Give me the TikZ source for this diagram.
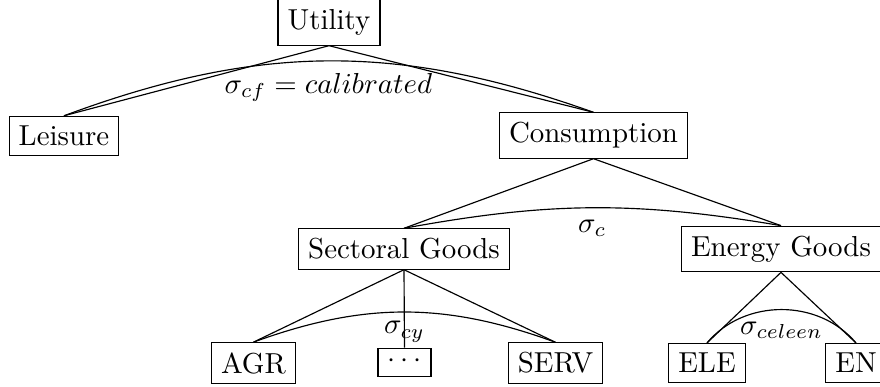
\documentclass[tikz,border=0pt]{standalone}
\begin{document}
\begin{tikzpicture}[x=0.346pt,y=-0.346pt,
  box/.style={draw,inner sep=0.333em},
  lab/.style={below,inner sep=4pt}]
\useasboundingbox (0,0) rectangle (880,387);
\clip (0,0) rectangle (880,387);
\node[box] (U) at (329,22.5) {Utility};
\node[box] (L) at (64,136) {Leisure};
\node[box] (C) at (593.5,135.5) {Consumption};
\node[box] (S) at (404,249) {Sectoral Goods};
\node[box] (E) at (781,249) {Energy Goods};
\node[box] (A) at (253.5,363) {AGR};
\node[box,text height=3.2pt,text depth=-1.8pt] (D) at (404.5,362.5) {$\cdots$};
\node[box] (V) at (555.5,363) {SERV};
\node[box] (EL) at (707,363) {ELE};
\node[box] (EN) at (856,363) {EN};
\draw (U.south) -- (L.north);
\draw (U.south) -- (C.north);
\draw (L.north) to[bend left=20] node[lab] {$\sigma_{cf} = calibrated$} (C.north);
\draw (C.south) -- (S.north);
\draw (C.south) -- (E.north);
\draw (S.north) to[bend left=10] node[lab] {$\sigma_{c}$} (E.north);
\draw (S.south) -- (A.north);
\draw (S.south) -- (D.north);
\draw (S.south) -- (V.north);
\draw (A.north) to[bend left=20] node[lab,inner sep=3pt] {$\sigma_{cy}$} (V.north);
\draw (E.south) -- (EL.north);
\draw (E.south) -- (EN.north);
\draw (EL.north) to[bend left=50] node[lab] {$\sigma_{celeen}$} (EN.north);
\end{tikzpicture}
\end{document}
